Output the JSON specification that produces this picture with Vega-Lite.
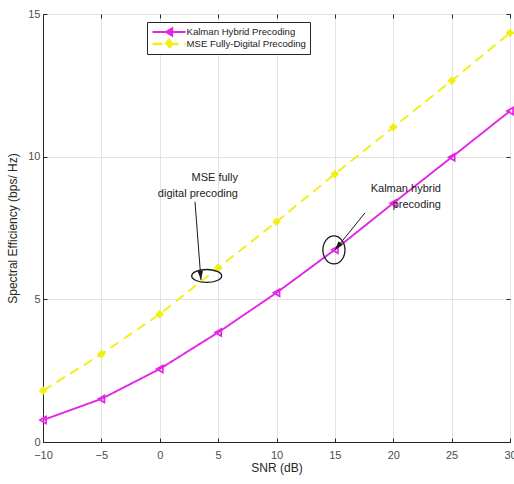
{
  "$schema": "https://vega.github.io/schema/vega-lite/v6.json",
  "width": 467,
  "height": 428,
  "autosize": "none",
  "padding": {"left": 43, "top": 14, "right": 4, "bottom": 42},
  "background": "white",
  "config": {
    "font": "Liberation Sans",
    "view": {"stroke": "#262626", "strokeWidth": 1},
    "axis": {
      "domainColor": "#262626",
      "tickColor": "#262626",
      "labelColor": "#4d4d4d",
      "titleColor": "#262626",
      "labelFontSize": 11,
      "titleFontSize": 12,
      "titleFontWeight": "normal",
      "gridColor": "#e3e3e3",
      "gridWidth": 1,
      "tickSize": -4
    },
    "legend": {
      "orient": "none",
      "legendX": 104,
      "legendY": 8,
      "strokeColor": "#262626",
      "fillColor": "white",
      "padding": 4,
      "labelFontSize": 9.6,
      "labelColor": "#222222",
      "symbolSize": 100,
      "symbolOffset": 11.5,
      "symbolStrokeWidth": 1.8,
      "labelOffset": 11,
      "rowPadding": 0,
      "clipHeight": 12,
      "labelLimit": 300
    }
  },
  "datasets": {
    "se": [
      {"snr": -10, "se": 0.77, "series": "Kalman Hybrid Precoding"},
      {"snr": -5, "se": 1.51, "series": "Kalman Hybrid Precoding"},
      {"snr": 0, "se": 2.56, "series": "Kalman Hybrid Precoding"},
      {"snr": 5, "se": 3.84, "series": "Kalman Hybrid Precoding"},
      {"snr": 10, "se": 5.23, "series": "Kalman Hybrid Precoding"},
      {"snr": 15, "se": 6.74, "series": "Kalman Hybrid Precoding"},
      {"snr": 20, "se": 8.37, "series": "Kalman Hybrid Precoding"},
      {"snr": 25, "se": 9.98, "series": "Kalman Hybrid Precoding"},
      {"snr": 30, "se": 11.6, "series": "Kalman Hybrid Precoding"},
      {"snr": -10, "se": 1.8, "series": "MSE Fully-Digital Precoding"},
      {"snr": -5, "se": 3.08, "series": "MSE Fully-Digital Precoding"},
      {"snr": 0, "se": 4.48, "series": "MSE Fully-Digital Precoding"},
      {"snr": 5, "se": 6.1, "series": "MSE Fully-Digital Precoding"},
      {"snr": 10, "se": 7.72, "series": "MSE Fully-Digital Precoding"},
      {"snr": 15, "se": 9.39, "series": "MSE Fully-Digital Precoding"},
      {"snr": 20, "se": 11.03, "series": "MSE Fully-Digital Precoding"},
      {"snr": 25, "se": 12.66, "series": "MSE Fully-Digital Precoding"},
      {"snr": 30, "se": 14.34, "series": "MSE Fully-Digital Precoding"}
    ],
    "notes": [
      {"x": 6.7, "y": 9.46, "label": ["MSE fully", "digital precoding"]},
      {"x": 24.09, "y": 9.08, "label": ["Kalman hybrid", "precoding"]}
    ],
    "arrow1": [{"x": 3.02, "y": 8.42, "x2": 3.53, "y2": 5.68}],
    "arrow2": [{"x": 17.58, "y": 8.03, "x2": 15.01, "y2": 6.73}],
    "ell1": [{"x": 4.02, "y": 5.82}],
    "ell2": [{"x": 14.92, "y": 6.73}]
  },
  "resolve": {"axis": {"x": "independent", "y": "independent"}},
  "layer": [
    {
      "data": {"name": "se"},
      "mark": {"type": "line", "strokeWidth": 1.9},
      "encoding": {
        "x": {
          "field": "snr", "type": "quantitative",
          "scale": {"domain": [-10, 30], "nice": false, "zero": false},
          "axis": {"title": "SNR (dB)", "values": [-10, -5, 0, 5, 10, 15, 20, 25, 30], "grid": true, "labelPadding": 11, "titlePadding": 2, "labelFlush": false}
        },
        "y": {
          "field": "se", "type": "quantitative",
          "scale": {"domain": [0, 15], "nice": false},
          "axis": {"title": "Spectral Efficiency (bps/ Hz)", "values": [0, 5, 10, 15], "grid": true, "labelPadding": 7, "titlePadding": 8}
        },
        "color": {
          "field": "series", "type": "nominal",
          "scale": {"domain": ["Kalman Hybrid Precoding", "MSE Fully-Digital Precoding"], "range": ["#e226e2", "#f0f014"]},
          "legend": {
            "title": null,
            "encode": {
              "symbols": {
                "update": {
                  "shape": {"signal": "datum.value === 'Kalman Hybrid Precoding' ? 'M-3.3,0L3.3,0M0.65,-0.75L-0.65,0L0.65,0.75Z' : 'M-3.3,0L3.3,0M0,-0.85L0.65,0L0,0.85L-0.65,0Z'"},
                  "fill": {"signal": "datum.value === 'Kalman Hybrid Precoding' ? '#e226e2' : '#f0f014'"}
                }
              }
            }
          }
        },
        "strokeDash": {
          "field": "series", "type": "nominal",
          "scale": {"domain": ["Kalman Hybrid Precoding", "MSE Fully-Digital Precoding"], "range": [[1, 0], [10, 6]]},
          "legend": {"title": null}
        },
        "strokeWidth": {
          "field": "series", "type": "nominal",
          "scale": {"domain": ["Kalman Hybrid Precoding", "MSE Fully-Digital Precoding"], "range": [1.9, 2.4]},
          "legend": null
        }
      }
    },
    {
      "data": {"name": "se"},
      "transform": [{"filter": "datum.series === 'Kalman Hybrid Precoding'"}],
      "mark": {"type": "point", "shape": "triangle-left", "filled": false, "size": 50, "strokeWidth": 1.7, "color": "#e226e2", "opacity": 1},
      "encoding": {
        "x": {"field": "snr", "type": "quantitative", "axis": null},
        "y": {"field": "se", "type": "quantitative", "axis": null}
      }
    },
    {
      "data": {"name": "se"},
      "transform": [{"filter": "datum.series === 'MSE Fully-Digital Precoding'"}],
      "mark": {"type": "point", "shape": "diamond", "filled": true, "size": 75, "color": "#f0f014", "opacity": 1},
      "encoding": {
        "x": {"field": "snr", "type": "quantitative", "axis": null},
        "y": {"field": "se", "type": "quantitative", "axis": null}
      }
    },
    {
      "data": {"name": "notes"},
      "mark": {"type": "text", "align": "right", "baseline": "top", "fontSize": 11, "lineHeight": 16, "color": "#222222"},
      "encoding": {
        "x": {"field": "x", "type": "quantitative", "axis": {"orient": "top", "labels": false, "title": null, "grid": false, "domain": false, "values": [-10, -5, 0, 5, 10, 15, 20, 25, 30]}},
        "y": {"field": "y", "type": "quantitative", "axis": {"orient": "right", "labels": false, "title": null, "grid": false, "domain": false, "values": [0, 5, 10, 15]}},
        "text": {"field": "label"}
      }
    },
    {
      "data": {"name": "arrow1"},
      "mark": {"type": "rule", "color": "#1a1a1a", "strokeWidth": 1},
      "encoding": {
        "x": {"field": "x", "type": "quantitative", "axis": null},
        "y": {"field": "y", "type": "quantitative", "axis": null},
        "x2": {"field": "x2"},
        "y2": {"field": "y2"}
      }
    },
    {
      "data": {"name": "arrow1"},
      "mark": {"type": "point", "shape": "M0,0L0.3,1L-0.3,1Z", "filled": true, "size": 324, "angle": 175.6, "color": "#1a1a1a", "opacity": 1},
      "encoding": {
        "x": {"field": "x2", "type": "quantitative", "axis": null},
        "y": {"field": "y2", "type": "quantitative", "axis": null}
      }
    },
    {
      "data": {"name": "arrow2"},
      "mark": {"type": "rule", "color": "#1a1a1a", "strokeWidth": 1},
      "encoding": {
        "x": {"field": "x", "type": "quantitative", "axis": null},
        "y": {"field": "y", "type": "quantitative", "axis": null},
        "x2": {"field": "x2"},
        "y2": {"field": "y2"}
      }
    },
    {
      "data": {"name": "arrow2"},
      "mark": {"type": "point", "shape": "M0,0L0.3,1L-0.3,1Z", "filled": true, "size": 324, "angle": 219, "color": "#1a1a1a", "opacity": 1},
      "encoding": {
        "x": {"field": "x2", "type": "quantitative", "axis": null},
        "y": {"field": "y2", "type": "quantitative", "axis": null}
      }
    },
    {
      "data": {"name": "ell1"},
      "mark": {"type": "point", "shape": "M-1,0A1,0.43,0,1,0,1,0A1,0.43,0,1,0,-1,0Z", "filled": false, "size": 900, "strokeWidth": 1.3, "color": "#1a1a1a", "opacity": 1},
      "encoding": {
        "x": {"field": "x", "type": "quantitative", "axis": null},
        "y": {"field": "y", "type": "quantitative", "axis": null}
      }
    },
    {
      "data": {"name": "ell2"},
      "mark": {"type": "point", "shape": "M-0.79,0A0.79,1,0,1,0,0.79,0A0.79,1,0,1,0,-0.79,0Z", "filled": false, "size": 784, "strokeWidth": 1.3, "color": "#1a1a1a", "opacity": 1},
      "encoding": {
        "x": {"field": "x", "type": "quantitative", "axis": null},
        "y": {"field": "y", "type": "quantitative", "axis": null}
      }
    }
  ]
}
